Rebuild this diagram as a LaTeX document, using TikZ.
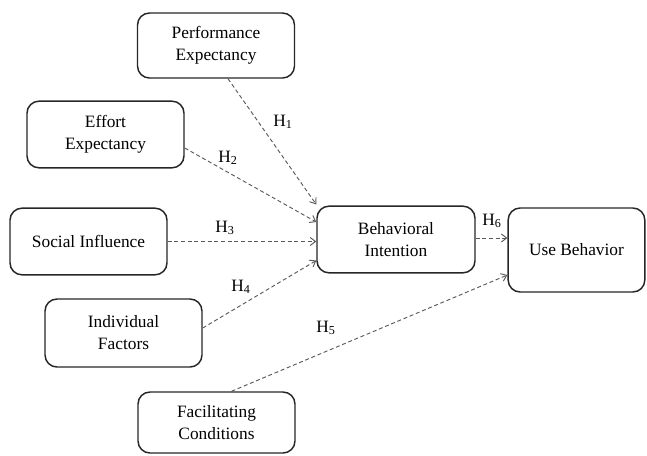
\documentclass[tikz,border=0pt]{standalone}
\usepackage{fontspec}
\setmainfont{Liberation Serif}
\usetikzlibrary{arrows.meta,calc}
\begin{document}
\begin{tikzpicture}[x=0.75pt,y=-0.75pt,
  box/.style={draw=black!85, line width=1.1pt, rounded corners=9pt, align=center,
    font=\fontsize{13}{16.5}\selectfont, inner sep=0pt},
  arr/.style={draw=black!65, line width=0.7pt, dash pattern=on 3pt off 2pt,
    -{Straight Barb[length=4pt,width=6pt]}},
  lab/.style={font=\fontsize{13}{15}\selectfont, inner sep=1pt}]
\useasboundingbox (0,0) rectangle (647,455);
\node[box, minimum width=117.75pt, minimum height=48.75pt] (PE) at (216,45.5) {Performance\\Expectancy};
\node[box, minimum width=117.75pt, minimum height=50pt] (EE) at (105.5,134.5) {Effort\\Expectancy};
\node[box, minimum width=117.75pt, minimum height=50pt] (SI) at (88.5,241.5) {Social Influence};
\node[box, minimum width=117.75pt, minimum height=51pt] (IF) at (123.5,333) {Individual\\Factors};
\node[box, minimum width=117.75pt, minimum height=45.75pt] (FC) at (216.5,422.5) {Facilitating\\Conditions};
\node[box, minimum width=118.5pt, minimum height=50pt] (BI) at (396,239.5) {Behavioral\\Intention};
\node[box, minimum width=102.5pt, minimum height=63pt] (UB) at (576.5,250) {Use Behavior};

\draw[arr] ($(PE.south)+(12,0)$) -- ($(BI.north west)+(0,-1)$);
\draw[arr] ($(EE.east)+(0,13.5)$) -- ($(BI.west)+(0,-17.5)$);
\draw[arr] (SI.east) -- (SI.east -| BI.west);
\draw[arr] ($(IF.east)+(0,-5)$) -- ($(BI.west)+(0,21)$);
\draw[arr] ($(FC.north)+(15,0)$) -- ($(UB.west)+(0,25)$);
\draw[arr] ($(BI.east)+(0,-1.5)$) -- ($(BI.east -| UB.west)+(0,-1.5)$);

\node[lab] (h1) at (283,122) {H\textsubscript{1}};
\node[lab] (h2) at (228,158) {H\textsubscript{2}};
\node[lab] (h3) at (225,228) {H\textsubscript{3}};
\node[lab] (h4) at (241,287) {H\textsubscript{4}};
\node[lab] (h5) at (326,328) {H\textsubscript{5}};
\node[lab] (h6) at (492,221) {H\textsubscript{6}};
\end{tikzpicture}
\end{document}
